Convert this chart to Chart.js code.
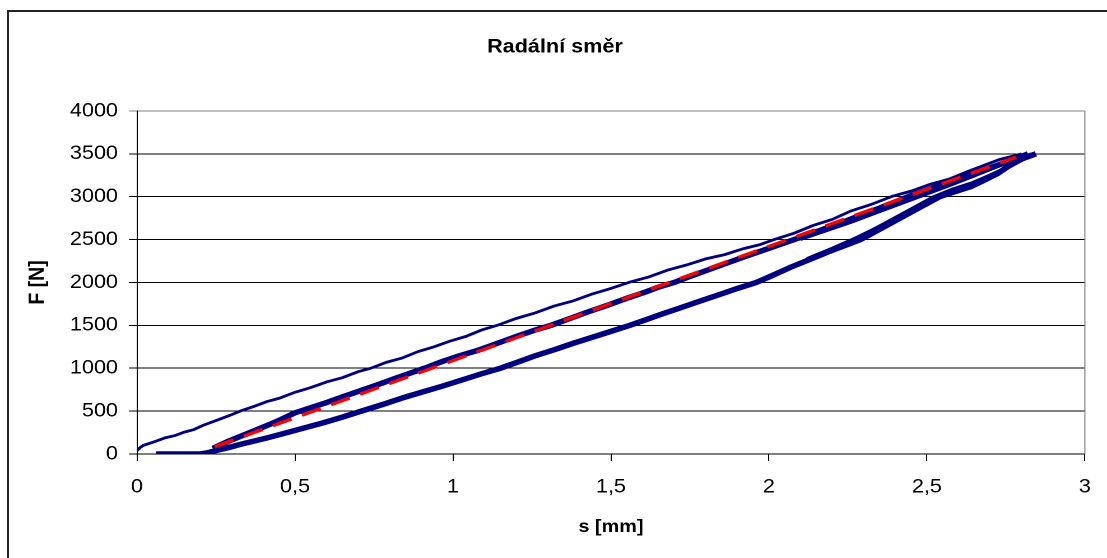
<!DOCTYPE html>
<html>
<head>
<meta charset="utf-8">
<title>Radální směr</title>
<script src="https://cdn.jsdelivr.net/npm/chart.js@4.4.0/dist/chart.umd.min.js"></script>
<style>
  html, body { margin: 0; padding: 0; background: #fff; overflow: hidden; }
  body { width: 1107px; height: 558px; position: relative; }
  /* outer chart frame, runs off the right and bottom edge like the original */
  #frame { position: absolute; left: 7px; top: 10px; width: 1200px; height: 600px;
           border-left: 2px solid #222; border-top: 2px solid #222; }
  /* the original text is drawn a bit wider than it is tall, so the chart is stretched */
  #wrap { position: absolute; left: 0; top: 0; width: 988px; height: 558px;
          transform: scaleX(1.12045); transform-origin: 0 0; }
</style>
</head>
<body>
<div id="frame"></div>
<div id="wrap"><canvas id="chart" width="988" height="558"></canvas></div>
<script>
// Axis ticks
const xTickLabels = ['0', '0,5', '1', '1,5', '2', '2,5', '3'];
const yTickValues = [0, 500, 1000, 1500, 2000, 2500, 3000, 3500, 4000];

// First loading (thin line from the origin)
const firstS = [0, 0.01, 0.02, 0.04, 0.06, 0.09, 0.12, 0.15, 0.18, 0.21, 0.25, 0.29, 0.33, 0.37, 0.41,
  0.45, 0.50, 0.55, 0.60, 0.65, 0.70, 0.74, 0.79, 0.84, 0.89, 0.94, 0.99, 1.04, 1.09, 1.14,
  1.20, 1.26, 1.32, 1.38, 1.44, 1.50, 1.56, 1.62, 1.68, 1.74, 1.80, 1.86, 1.92, 1.97, 2.02,
  2.08, 2.14, 2.20, 2.26, 2.32, 2.39, 2.45, 2.51, 2.57, 2.63, 2.68, 2.73, 2.77, 2.80];
const firstF = [40, 75, 100, 125, 150, 190, 215, 255, 285, 335, 390, 445, 505, 555, 610,
  650, 720, 775, 840, 890, 960, 1000, 1070, 1120, 1195, 1250, 1315, 1370, 1445, 1500,
  1580, 1645, 1725, 1785, 1865, 1930, 2005, 2065, 2145, 2205, 2275, 2325, 2395, 2440, 2505,
  2575, 2665, 2735, 2835, 2905, 3005, 3065, 3145, 3205, 3295, 3365, 3435, 3470, 3500];

// Reloading branch (middle band)
const loadS = [0.24, 0.26, 0.29, 0.33, 0.37, 0.42, 0.46, 0.50, 0.55, 0.60, 0.65, 0.70, 0.76, 0.82, 0.87,
  0.91, 0.96, 1.02, 1.08, 1.14, 1.20, 1.26, 1.31, 1.37, 1.43, 1.49, 1.55, 1.61, 1.65, 1.70,
  1.75, 1.81, 1.87, 1.93, 1.99, 2.04, 2.08, 2.13, 2.19, 2.25, 2.30, 2.35, 2.40, 2.44, 2.49,
  2.54, 2.59, 2.64, 2.69, 2.73, 2.77, 2.80, 2.82];
const loadF = [65, 100, 150, 210, 270, 345, 410, 480, 540, 600, 665, 730, 805, 885, 950,
  1000, 1070, 1145, 1210, 1290, 1370, 1445, 1500, 1580, 1660, 1735, 1815, 1890, 1945, 2000,
  2070, 2150, 2230, 2310, 2385, 2450, 2500, 2565, 2645, 2725, 2800, 2867, 2940, 3000, 3065,
  3130, 3195, 3260, 3325, 3375, 3430, 3470, 3500];

// Unloading branch (lower band)
const unloadS = [2.845, 2.83, 2.80, 2.76, 2.725, 2.68, 2.64, 2.59, 2.54, 2.49, 2.45, 2.41, 2.37, 2.33, 2.29,
  2.24, 2.19, 2.13, 2.07, 2.01, 1.96, 1.90, 1.84, 1.78, 1.72, 1.66, 1.61, 1.56, 1.50, 1.44,
  1.38, 1.32, 1.26, 1.20, 1.15, 1.09, 1.03, 0.97, 0.91, 0.85, 0.78, 0.71, 0.65, 0.59, 0.53,
  0.47, 0.42, 0.37, 0.33, 0.29, 0.26, 0.24, 0.22, 0.20, 0.06];
const unloadF = [3500, 3480, 3440, 3360, 3273, 3190, 3120, 3060, 3000, 2900, 2820, 2740, 2660, 2580, 2500,
  2430, 2360, 2270, 2180, 2080, 2000, 1930, 1855, 1780, 1705, 1630, 1565, 1500, 1430, 1360,
  1290, 1215, 1145, 1065, 1000, 935, 865, 795, 730, 665, 580, 500, 430, 365, 305,
  245, 195, 150, 115, 75, 50, 30, 12, 0, 0];

// Later cycles that split off near the top
const loadBS = [2.10, 2.18, 2.26, 2.34, 2.42, 2.50, 2.58, 2.65, 2.71, 2.76, 2.80, 2.83];
const loadBF = [2500, 2600, 2700, 2810, 2920, 3030, 3140, 3240, 3330, 3400, 3460, 3500];
const unloadBS = [2.838, 2.80, 2.75, 2.70, 2.64, 2.58, 2.52, 2.46, 2.40, 2.34, 2.28, 2.20, 2.12];
const unloadBF = [3500, 3420, 3340, 3255, 3160, 3090, 3000, 2880, 2760, 2640, 2530, 2400, 2280];

// Linear fit (red dashed)
const fitS = [0.246, 2.782];
const fitF = [85, 3462];

const NAVY = '#000080';
const FONT = '"Liberation Sans", Arial, sans-serif';

function toPoints(s, f) {
  return s.map((v, i) => ({ x: v, y: f[i] }));
}

function lineSet(label, s, f, color, width, dash) {
  return {
    label: label,
    data: toPoints(s, f),
    showLine: true,
    borderColor: color,
    backgroundColor: color,
    borderWidth: width,
    borderDash: dash || [],
    pointRadius: 0,
    tension: 0,
    fill: false
  };
}

// Right edge of the plot area is a grey frame line in the original
const plotFrame = {
  id: 'plotFrame',
  afterDraw(chart) {
    const { ctx, chartArea } = chart;
    ctx.save();
    ctx.strokeStyle = '#808080';
    ctx.lineWidth = 1;
    ctx.beginPath();
    ctx.moveTo(chartArea.right, chartArea.top);
    ctx.lineTo(chartArea.right, chartArea.bottom);
    ctx.stroke();
    ctx.restore();
  }
};

Chart.defaults.font.family = FONT;
Chart.defaults.color = '#000';

new Chart(document.getElementById('chart'), {
  type: 'scatter',
  data: {
    datasets: [
      // first dataset is drawn on top
      lineSet('fit', fitS, fitF, '#FF0000', 3.3, [18, 10]),
      lineSet('first loading', firstS, firstF, NAVY, 2.8),
      lineSet('loading B', loadBS, loadBF, NAVY, 2.8),
      lineSet('unloading B', unloadBS, unloadBF, NAVY, 2.8),
      lineSet('loading', loadS, loadF, NAVY, 5.5),
      lineSet('unloading', unloadS, unloadF, NAVY, 5.5)
    ]
  },
  options: {
    responsive: false,
    devicePixelRatio: 2,
    animation: false,
    layout: { padding: { left: 2.6, top: 0, right: 0, bottom: 0 } },
    plugins: {
      legend: { display: false },
      tooltip: { enabled: false },
      title: {
        display: true,
        text: 'Radální směr',
        color: '#000',
        font: { family: FONT, size: 19.3, weight: 'bold' },
        padding: { top: 35.4, bottom: 52.4 }
      }
    },
    scales: {
      x: {
        type: 'linear',
        min: 0,
        max: 3,
        afterFit: (scale) => { scale.height = 104; },
        ticks: {
          stepSize: 0.5,
          padding: 14.4,
          font: { size: 19.3 },
          color: '#000',
          callback: (value, index) => xTickLabels[index]
        },
        grid: { drawOnChartArea: false, drawTicks: true, tickLength: 7, color: '#000', lineWidth: 1 },
        border: { display: true, color: '#000', width: 1 },
        title: {
          display: true,
          text: 's [mm]',
          color: '#000',
          font: { family: FONT, size: 17.7, weight: 'bold' },
          padding: { top: 0, bottom: 20.4 }
        }
      },
      y: {
        type: 'linear',
        min: 0,
        max: 4000,
        afterFit: (scale) => { scale.width = 119.67; },
        afterBuildTicks: (scale) => { scale.ticks = yTickValues.map(v => ({ value: v })); },
        ticks: {
          padding: 9.9,
          font: { size: 19.3 },
          color: '#000',
          callback: (value) => String(value)
        },
        grid: {
          drawTicks: true,
          tickLength: 7.1,
          lineWidth: 1,
          color: (ctx) => (ctx.tick && ctx.tick.value === 4000 ? '#808080' : '#000')
        },
        border: { display: true, color: '#000', width: 1 },
        title: {
          display: true,
          text: 'F [N]',
          color: '#000',
          font: { family: FONT, size: 19.5, weight: 'bold' },
          padding: { top: 19.4, bottom: 0 }
        }
      },
      // empty right-hand box that keeps the plot area off the right edge
      yRight: {
        type: 'linear',
        position: 'right',
        min: 0,
        max: 4000,
        afterFit: (scale) => { scale.width = 17.85; },
        ticks: { display: false },
        grid: { display: false },
        border: { display: false }
      }
    }
  },
  plugins: [plotFrame]
});
</script>
</body>
</html>
